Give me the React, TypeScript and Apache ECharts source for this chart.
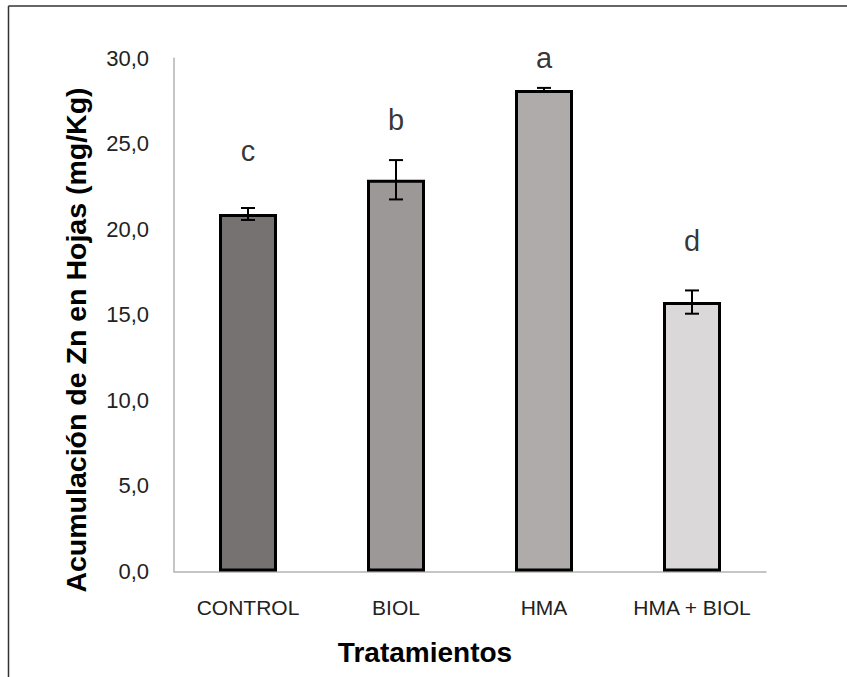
import React, { useEffect, useRef } from "react";
import * as echarts from "echarts";

const categories = ["CONTROL", "BIOL", "HMA", "HMA + BIOL"];
const means = [20.9, 22.9, 28.15, 15.75];
const errors = [0.35, 1.15, 0.12, 0.68];
const letters = ["c", "b", "a", "d"];
const letterY = [24.6, 26.4, 30.0, 19.3];
const barColors = ["#767272", "#9c9898", "#afabab", "#dad8d9"];
const yTicks = { min: 0, max: 30, interval: 5 };

export default function App() {
  const ref = useRef<HTMLDivElement>(null);
  useEffect(() => {
    if (!ref.current) return;
    const chart = echarts.init(ref.current, null, { renderer: "svg" });
    const font = "'Liberation Sans', Arial, sans-serif";
    chart.setOption({
      animation: false,
      backgroundColor: "#ffffff",
      grid: { left: 174, right: 81, top: 58.3, bottom: 105.5, containLabel: false },
      xAxis: {
        type: "category",
        data: categories,
        axisLine: { lineStyle: { color: "#b3b3b3", width: 1.5 } },
        axisTick: { show: false },
        axisLabel: { color: "#222222", fontSize: 21, fontFamily: font, margin: 25, interval: 0 },
      },
      yAxis: {
        type: "value",
        min: yTicks.min,
        max: yTicks.max,
        interval: yTicks.interval,
        axisLine: { show: true, lineStyle: { color: "#b3b3b3", width: 1.5 } },
        axisTick: { show: false },
        splitLine: { show: false },
        axisLabel: {
          color: "#222222",
          fontSize: 22,
          fontFamily: font,
          margin: 25,
          formatter: (v: number) => v.toFixed(1).replace(".", ","),
        },
      },
      series: [
        {
          type: "bar",
          barWidth: 58,
          data: means.map((v, i) => ({
            value: v,
            itemStyle: { color: barColors[i], borderColor: "#000000", borderWidth: 3 },
          })),
        },
        {
          type: "custom",
          data: means.map((v, i) => [i, v - errors[i], v + errors[i]]),
          renderItem: (params: any, api: any) => {
            const x = api.value(0);
            const lo = api.coord([x, api.value(1)]);
            const hi = api.coord([x, api.value(2)]);
            const hw = 7;
            const st = { stroke: "#000000", lineWidth: 2 };
            return {
              type: "group",
              children: [
                { type: "line", shape: { x1: lo[0], y1: lo[1], x2: hi[0], y2: hi[1] }, style: st },
                { type: "line", shape: { x1: hi[0] - hw, y1: hi[1], x2: hi[0] + hw, y2: hi[1] }, style: st },
                { type: "line", shape: { x1: lo[0] - hw, y1: lo[1], x2: lo[0] + hw, y2: lo[1] }, style: st },
              ],
            };
          },
          z: 5,
        },
        {
          type: "scatter",
          symbolSize: 0,
          clip: false,
          data: letterY.map((v, i) => [i, v]),
          label: {
            show: true,
            position: "inside",
            formatter: (p: any) => letters[p.dataIndex],
            fontSize: 29,
            fontFamily: font,
            color: "#000000",
          },
          z: 6,
        },
      ],
      graphic: [
        { type: "line", shape: { x1: 8.5, y1: 6, x2: 847, y2: 6 }, style: { stroke: "#333333", lineWidth: 1.5 } },
        { type: "line", shape: { x1: 8.5, y1: 6, x2: 8.5, y2: 677 }, style: { stroke: "#333333", lineWidth: 1.5 } },
        {
          type: "text",
          x: 76,
          y: 340,
          rotation: Math.PI / 2,
          style: {
            text: "Acumulación de Zn en Hojas (mg/Kg)",
            fontSize: 28.5,
            fontWeight: "bold",
            fontFamily: font,
            fill: "#000000",
            textAlign: "center",
            textVerticalAlign: "middle",
          },
        },
        {
          type: "text",
          x: 425,
          y: 652,
          style: {
            text: "Tratamientos",
            fontSize: 28,
            fontWeight: "bold",
            fontFamily: font,
            fill: "#000000",
            textAlign: "center",
            textVerticalAlign: "middle",
          },
        },
      ],
    });
    return () => chart.dispose();
  }, []);
  return (
    <div
      ref={ref}
      style={{ position: "fixed", left: 0, top: 0, width: 847, height: 677, background: "#fff" }}
    />
  );
}
